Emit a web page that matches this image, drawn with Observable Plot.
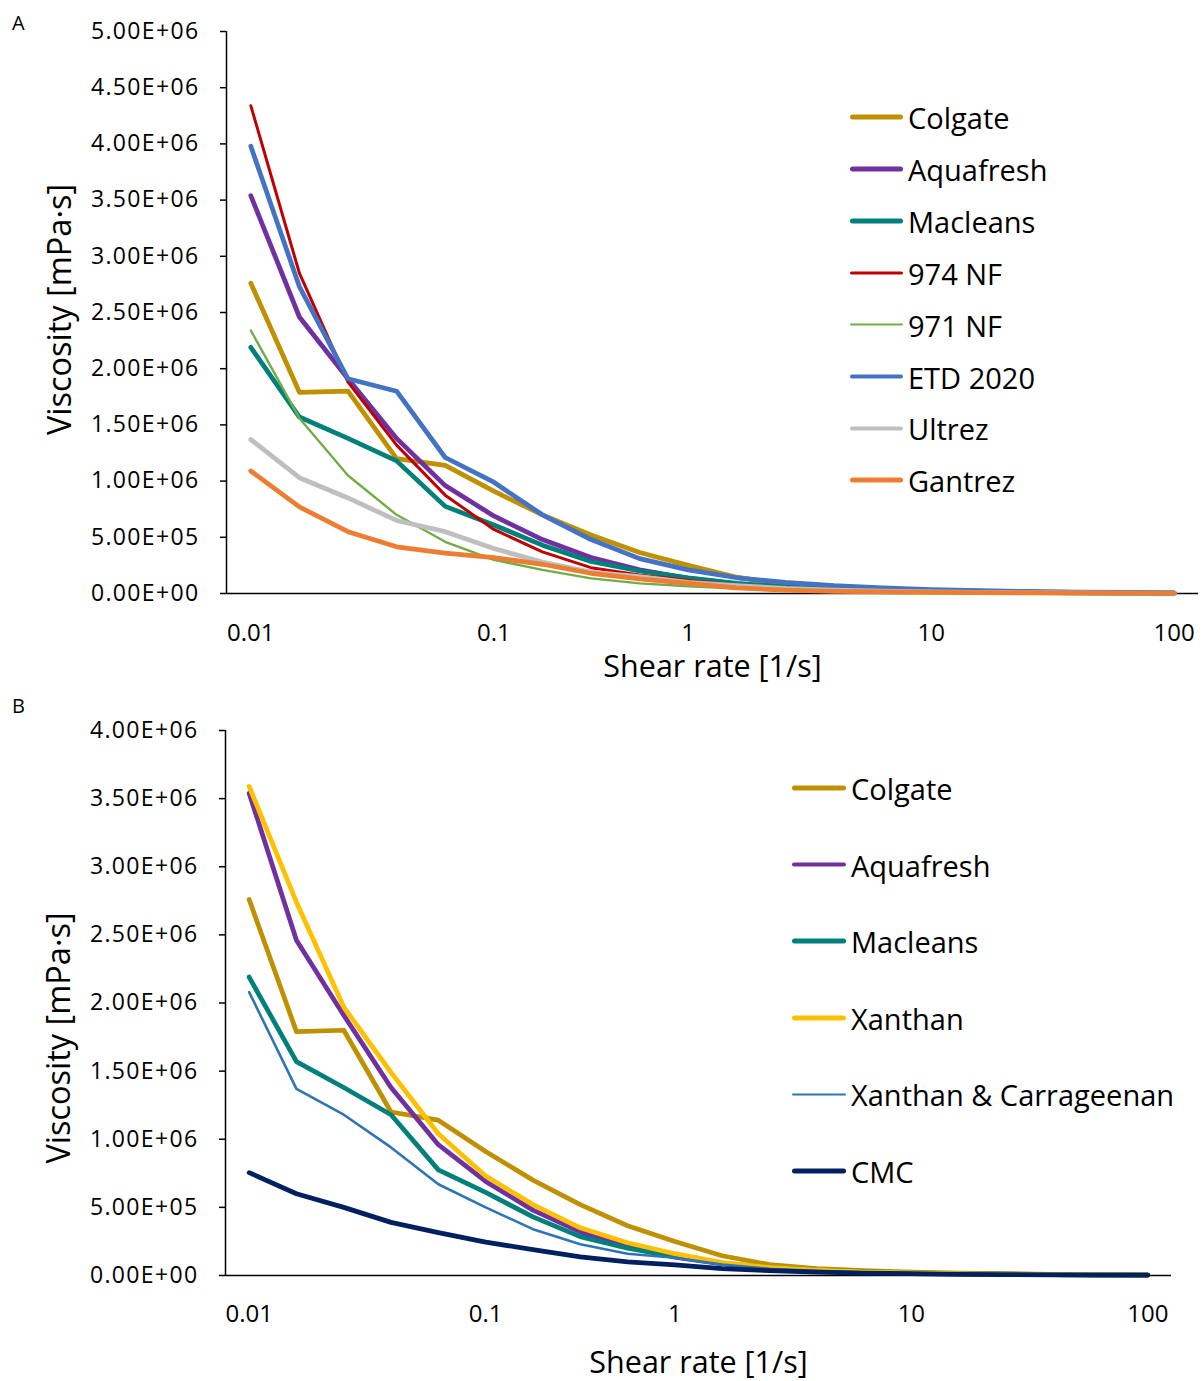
<!DOCTYPE html>
<html><head><meta charset="utf-8">
<script src="https://cdn.jsdelivr.net/npm/d3@7"></script>
<script src="https://cdn.jsdelivr.net/npm/@observablehq/plot@0.6"></script>
<style>
body{margin:0;background:#fff;}
#root{position:relative;width:1203px;height:1381px;font-family:"Open Sans",sans-serif;color:#000;overflow:hidden;}
.panel{position:absolute;left:0;width:1203px;}
.tag{position:absolute;left:12px;font:20px "Open Sans",sans-serif;line-height:1;}
.legend{position:absolute;}
.legend .row{position:absolute;left:0;display:flex;align-items:center;white-space:nowrap;font-size:29px;line-height:1;transform:translateY(-50%);}
.legend .sw{border-radius:3px;margin-right:5px;}
</style>
</head><body>
<div id="root"></div>
<script>
// ---- data (viscosity in units of 1E+06 mPa·s, 20 shear-rate categories) ----
const tickIndex = [0, 5, 9, 14, 19];
const tickLabels = ["0.01", "0.1", "1", "10", "100"];
const yTicksA = [0, 5e5, 1e6, 1.5e6, 2e6, 2.5e6, 3e6, 3.5e6, 4e6, 4.5e6, 5e6];
const yTicksB = [0, 5e5, 1e6, 1.5e6, 2e6, 2.5e6, 3e6, 3.5e6, 4e6];

const colgate   = [2.76, 1.79, 1.80, 1.20, 1.14, 0.91, 0.70, 0.52, 0.365, 0.25, 0.145, 0.08, 0.05, 0.035, 0.025, 0.018, 0.013, 0.009, 0.006, 0.004];
const aquafresh = [3.54, 2.46, 1.91, 1.38, 0.96, 0.69, 0.48, 0.32, 0.21, 0.135, 0.085, 0.055, 0.037, 0.026, 0.018, 0.013, 0.009, 0.006, 0.004, 0.003];
const macleans  = [2.19, 1.57, 1.38, 1.18, 0.775, 0.61, 0.43, 0.285, 0.20, 0.14, 0.09, 0.06, 0.04, 0.028, 0.02, 0.014, 0.01, 0.007, 0.005, 0.003];
const nf974     = [4.34, 2.85, 1.88, 1.32, 0.875, 0.57, 0.37, 0.23, 0.165, 0.115, 0.075, 0.05, 0.034, 0.024, 0.017, 0.012, 0.008, 0.006, 0.004, 0.003];
const nf971     = [2.34, 1.56, 1.05, 0.70, 0.46, 0.30, 0.21, 0.135, 0.09, 0.065, 0.045, 0.03, 0.021, 0.015, 0.011, 0.008, 0.006, 0.004, 0.003, 0.002];
const etd2020   = [3.98, 2.73, 1.91, 1.80, 1.21, 0.99, 0.70, 0.48, 0.31, 0.21, 0.14, 0.10, 0.07, 0.05, 0.035, 0.025, 0.018, 0.013, 0.009, 0.006];
const ultrez    = [1.37, 1.03, 0.85, 0.65, 0.55, 0.40, 0.28, 0.19, 0.15, 0.10, 0.07, 0.045, 0.03, 0.021, 0.015, 0.011, 0.008, 0.006, 0.004, 0.003];
const gantrez   = [1.09, 0.77, 0.55, 0.415, 0.36, 0.32, 0.26, 0.18, 0.13, 0.09, 0.05, 0.03, 0.02, 0.014, 0.01, 0.007, 0.005, 0.004, 0.003, 0.002];
const xanthan   = [3.59, 2.74, 1.97, 1.49, 1.04, 0.73, 0.52, 0.35, 0.24, 0.16, 0.095, 0.06, 0.04, 0.027, 0.019, 0.013, 0.009, 0.006, 0.004, 0.003];
const xanCarr   = [2.08, 1.37, 1.18, 0.94, 0.67, 0.50, 0.34, 0.23, 0.16, 0.13, 0.08, 0.05, 0.034, 0.024, 0.017, 0.012, 0.008, 0.006, 0.004, 0.003];
const cmc       = [0.755, 0.60, 0.50, 0.39, 0.315, 0.245, 0.19, 0.137, 0.10, 0.078, 0.05, 0.035, 0.025, 0.018, 0.013, 0.009, 0.007, 0.005, 0.003, 0.002];

const namesA = ["Colgate", "Aquafresh", "Macleans", "974 NF", "971 NF", "ETD 2020", "Ultrez", "Gantrez"];
const valuesA = [colgate, aquafresh, macleans, nf974, nf971, etd2020, ultrez, gantrez];
const namesB = ["Colgate", "Aquafresh", "Macleans", "Xanthan", "Xanthan & Carrageenan", "CMC"];
const valuesB = [colgate, aquafresh, macleans, xanthan, xanCarr, cmc];

// ---- styles ----
const styleOf = {
  "Colgate": {color: "#BF9000", w: 4.75},
  "Aquafresh": {color: "#7030A0", w: 4.75},
  "Macleans": {color: "#00807A", w: 4.75},
  "974 NF": {color: "#C00000", w: 3},
  "971 NF": {color: "#70AD47", w: 2.4},
  "ETD 2020": {color: "#4472C4", w: 4.75},
  "Ultrez": {color: "#BFBFBF", w: 4.75},
  "Gantrez": {color: "#ED7D31", w: 4.75},
  "Xanthan": {color: "#FFC000", w: 4.75},
  "Xanthan & Carrageenan": {color: "#2E75B6", w: 2.6},
  "CMC": {color: "#002060", w: 4.75}
};

const fmt = d => {
  if (d === 0) return "0.00E+00";
  const e = Math.floor(Math.log10(d) + 1e-9);
  const m = d / Math.pow(10, e);
  return m.toFixed(2) + "E+" + String(e).padStart(2, "0");
};

function panel({names, values, yMax, yTicks, width, height, mt, mb, ml, mr, labelPad, titleDy, yTitleDy}) {
  const lines = names.map((n, k) => Plot.line(values[k], {
    x: (d, i) => i, y: d => d * 1e6,
    stroke: styleOf[n].color, strokeWidth: styleOf[n].w,
    strokeLinejoin: "round", strokeLinecap: "round"
  }));
  const svg = Plot.plot({
    width, height,
    marginTop: mt, marginBottom: mb, marginLeft: ml, marginRight: mr,
    style: {fontFamily: "'Open Sans', sans-serif", color: "#000", background: "#fff", overflow: "visible"},
    x: {type: "linear", domain: [-0.5, 19.5]},
    y: {type: "linear", domain: [0, yMax]},
    marks: [
      Plot.axisY({ticks: yTicks, tickFormat: fmt, tickSize: 6, tickPadding: 21, label: null,
        fontSize: 23, stroke: "#000", strokeWidth: 1.5}),
      Plot.axisX({ticks: tickIndex, tickFormat: d => tickLabels[tickIndex.indexOf(d)], tickSize: 0,
        tickPadding: labelPad, label: null, fontSize: 24}),
      Plot.ruleX([-0.5], {stroke: "#000", strokeWidth: 1.5}),
      Plot.ruleY([0], {stroke: "#000", strokeWidth: 1.5}),
      ...lines,
      Plot.text(["Shear rate [1/s]"], {frameAnchor: "bottom", textAnchor: "middle", lineAnchor: "middle",
        dy: titleDy, fontSize: 30.5, fill: "#000"}),
      Plot.text(["Viscosity [mPa·s]"], {frameAnchor: "left", textAnchor: "middle", lineAnchor: "middle",
        dx: -166, dy: yTitleDy, rotate: -90, fontSize: 32.5, fill: "#000"})
    ]
  });
  // enforce tick label fonts
  svg.querySelectorAll("text").forEach(t => {
    const s = t.textContent;
    if (/E\+/.test(s)) { t.style.fontSize = "23px"; t.style.letterSpacing = "1.35px"; t.style.fontFamily = "'Open Sans', sans-serif"; }
    else if (tickLabels.includes(s)) { t.style.fontSize = "24px"; t.style.fontFamily = "'Open Sans', sans-serif"; }
  });
  return svg;
}

function legend(names, left, top, step, swW) {
  const lg = document.createElement("div");
  lg.className = "legend";
  lg.style.left = left + "px";
  lg.style.top = top + "px";
  names.forEach((n, k) => {
    const row = document.createElement("div");
    row.className = "row";
    row.style.top = (k * step) + "px";
    const sw = document.createElement("span");
    sw.className = "sw";
    sw.style.width = swW + "px";
    sw.style.height = styleOf[n].w + "px";
    sw.style.background = styleOf[n].color;
    const tx = document.createElement("span");
    tx.textContent = n;
    row.append(sw, tx);
    lg.append(row);
  });
  return lg;
}

const root = document.getElementById("root");

const pa = document.createElement("div");
pa.className = "panel"; pa.style.top = "0px";
pa.append(panel({names: namesA, values: valuesA, yMax: 5e6, yTicks: yTicksA, width: 1203, height: 690,
  mt: 31, mb: 97, ml: 226, mr: 5, labelPad: 30, titleDy: 74, yTitleDy: -3}));
root.append(pa);

const pb = document.createElement("div");
pb.className = "panel"; pb.style.top = "690px";
pb.append(panel({names: namesB, values: valuesB, yMax: 4e6, yTicks: yTicksB, width: 1203, height: 691,
  mt: 40, mb: 106, ml: 225, mr: 32, labelPad: 29, titleDy: 88, yTitleDy: 35}));
root.append(pb);

root.append(legend(namesA, 850, 117, 51.9, 53));
root.append(legend(namesB, 792, 788, 76.6, 54));

const ta = document.createElement("div"); ta.className = "tag"; ta.style.top = "13px"; ta.textContent = "A"; root.append(ta);
const tb = document.createElement("div"); tb.className = "tag"; tb.style.top = "696px"; tb.textContent = "B"; root.append(tb);
</script>
</body></html>
